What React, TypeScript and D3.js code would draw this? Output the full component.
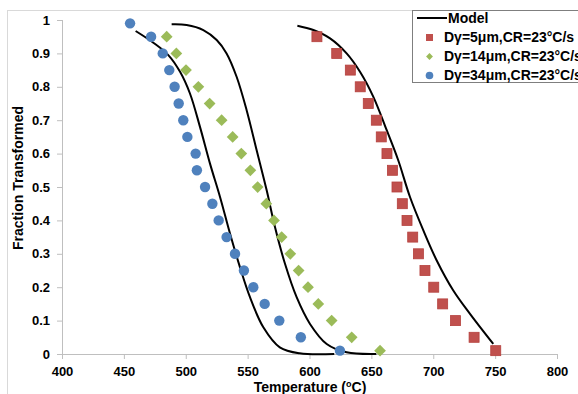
import React, { useRef, useEffect } from "react";
import * as d3 from "d3";

// tick values
const xTicks = [400, 450, 500, 550, 600, 650, 700, 750, 800];
const yTicks = [0, 0.1, 0.2, 0.3, 0.4, 0.5, 0.6, 0.7, 0.8, 0.9, 1];

// measured points, Dγ=5μm
const d5T = [606, 622, 633, 641, 647.5, 654, 658, 662.6, 667, 670.7, 675, 678.8, 683.4, 688, 693.3, 700.4, 707.6, 718, 733, 750.5];
const d5F = [0.95, 0.9, 0.85, 0.8, 0.75, 0.7, 0.65, 0.6, 0.55, 0.5, 0.45, 0.4, 0.35, 0.3, 0.25, 0.2, 0.15, 0.1, 0.05, 0.01];

// measured points, Dγ=14μm
const d14T = [484.6, 492.4, 500.2, 510.2, 519.3, 529, 537.9, 544.9, 552.2, 558.1, 565.1, 571.3, 577.5, 584.5, 591.2, 598.8, 607.1, 617.9, 634.1, 657];
const d14F = [0.95, 0.9, 0.85, 0.8, 0.75, 0.7, 0.65, 0.6, 0.55, 0.5, 0.45, 0.4, 0.35, 0.3, 0.25, 0.2, 0.15, 0.1, 0.05, 0.01];

// measured points, Dγ=34μm
const d34T = [455, 472, 481.4, 486.7, 491, 494.3, 498, 501.3, 508, 509, 515.6, 521.5, 526.6, 533, 539.8, 547, 554.6, 563.8, 575.6, 593, 624.6];
const d34F = [0.99, 0.95, 0.9, 0.85, 0.8, 0.75, 0.7, 0.65, 0.6, 0.55, 0.5, 0.45, 0.4, 0.35, 0.3, 0.25, 0.2, 0.15, 0.1, 0.05, 0.01];

// model curves
const modelAT = [459.5, 473.8, 485.9, 495.4, 503.4, 511.5, 519.6, 527.7, 535.8, 543.8, 551.9, 562.7, 576, 592, 620];
const modelAF = [0.967, 0.932, 0.895, 0.845, 0.78, 0.68, 0.57, 0.47, 0.36, 0.26, 0.17, 0.08, 0.02, 0.002, 0];
const modelBT = [488.6, 500.7, 514.2, 525, 533, 541.1, 549.2, 557.3, 565.4, 572.1, 580.2, 589.6, 600.4, 613.9, 630, 654];
const modelBF = [0.987, 0.985, 0.97, 0.94, 0.9, 0.83, 0.73, 0.61, 0.49, 0.38, 0.27, 0.17, 0.09, 0.03, 0.005, 0];
const modelCT = [590.2, 603.1, 616.6, 630, 640.8, 651.6, 662.4, 671.7, 681.2, 692, 702.8, 716.2, 729.7, 748.5];
const modelCF = [0.983, 0.97, 0.945, 0.9, 0.845, 0.77, 0.67, 0.58, 0.47, 0.37, 0.28, 0.19, 0.12, 0.03];

const legendLabels = ["Model", "Dγ=5μm,CR=23°C/s", "Dγ=14μm,CR=23°C/s", "Dγ=34μm,CR=23°C/s"];

const RED = "#C0504D";
const GREEN = "#9BBB59";
const BLUE = "#4F81BD";
const FONT = "'Liberation Sans', Arial, sans-serif";

export default function App() {
  const svgRef = useRef<SVGSVGElement>(null);

  useEffect(() => {
    const w = 578;
    const h = 394;
    const svg = d3.select(svgRef.current).attr("width", w).attr("height", h);
    svg.selectAll("*").remove();

    const x = d3.scaleLinear().domain([400, 800]).range([62, 557]);
    const y = d3.scaleLinear().domain([0, 1]).range([354, 20]);

    // outer chart border
    svg.append("rect")
      .attr("x", 7.5).attr("y", 10.5)
      .attr("width", 600).attr("height", 420)
      .attr("fill", "white").attr("stroke", "#d9d9d9");

    // axes
    const xAxis = d3.axisBottom(x).tickValues(xTicks).tickSize(5).tickFormat(d3.format("d"));
    const gx = svg.append("g").attr("transform", "translate(0,354)").call(xAxis);
    gx.selectAll("path, line").attr("stroke", "#bfbfbf");
    gx.selectAll("text")
      .attr("fill", "#000").attr("font-size", 13).attr("font-weight", "bold")
      .attr("font-family", FONT).attr("dy", "1.05em");

    const yAxis = d3.axisLeft(y).tickValues(yTicks).tickSize(5).tickFormat((d) => String(d));
    const gy = svg.append("g").attr("transform", "translate(62,0)").call(yAxis);
    gy.selectAll("path, line").attr("stroke", "#bfbfbf");
    gy.selectAll("text")
      .attr("fill", "#000").attr("font-size", 13).attr("font-weight", "bold")
      .attr("font-family", FONT).attr("x", -12);
    gx.select(".domain").attr("d", "M62,0.5H557");
    gy.select(".domain").attr("d", "M0.5,20V354");

    // axis titles
    const xt = svg.append("text")
      .attr("x", 310).attr("y", 392)
      .attr("text-anchor", "middle")
      .attr("font-size", 14).attr("font-weight", "bold").attr("font-family", FONT);
    xt.append("tspan").text("Temperature (");
    xt.append("tspan").text("o").attr("font-size", 9).attr("dy", -5);
    xt.append("tspan").text("C)").attr("dy", 5);

    svg.append("text")
      .attr("transform", "translate(23,178) rotate(-90)")
      .attr("text-anchor", "middle")
      .attr("font-size", 14).attr("font-weight", "bold").attr("font-family", FONT)
      .text("Fraction Transformed");

    // model lines
    const line = d3.line<[number, number]>()
      .x((d) => x(d[0])).y((d) => y(d[1]))
      .curve(d3.curveCatmullRom);
    const models = [
      d3.zip(modelAT, modelAF),
      d3.zip(modelBT, modelBF),
      d3.zip(modelCT, modelCF),
    ] as [number, number][][];
    svg.append("g").selectAll("path").data(models).join("path")
      .attr("d", (d) => line(d))
      .attr("fill", "none").attr("stroke", "#000").attr("stroke-width", 2);

    // markers
    svg.append("g").selectAll("rect").data(d3.zip(d5T, d5F)).join("rect")
      .attr("x", (d) => x(d[0]) - 5).attr("y", (d) => y(d[1]) - 5)
      .attr("width", 10).attr("height", 10)
      .attr("fill", RED).attr("stroke", "#b5403d").attr("stroke-width", 0.8);

    const diamond = d3.symbol().type(d3.symbolDiamond2).size(88);
    svg.append("g").selectAll("path").data(d3.zip(d14T, d14F)).join("path")
      .attr("d", diamond)
      .attr("transform", (d) => `translate(${x(d[0])},${y(d[1])})`)
      .attr("fill", GREEN);

    svg.append("g").selectAll("circle").data(d3.zip(d34T, d34F)).join("circle")
      .attr("cx", (d) => x(d[0])).attr("cy", (d) => y(d[1])).attr("r", 5.2)
      .attr("fill", BLUE);

    // legend
    const lg = svg.append("g");
    lg.append("rect")
      .attr("x", 412.5).attr("y", 10.5).attr("width", 200).attr("height", 72)
      .attr("fill", "white").attr("stroke", "#7f7f7f");
    lg.append("line").attr("x1", 417).attr("x2", 447).attr("y1", 18).attr("y2", 18)
      .attr("stroke", "#000").attr("stroke-width", 2);
    lg.append("rect").attr("x", 426).attr("y", 34).attr("width", 7).attr("height", 7).attr("fill", RED);
    lg.append("path").attr("d", d3.symbol().type(d3.symbolDiamond2).size(30))
      .attr("transform", "translate(429.5,56.5)").attr("fill", GREEN);
    lg.append("circle").attr("cx", 429.5).attr("cy", 75.5).attr("r", 3.8).attr("fill", BLUE);
    const ly = [18, 37.5, 56.5, 75.5];
    const lx = [448, 444, 444, 444];
    lg.selectAll("text.lab").data(legendLabels).join("text")
      .attr("class", "lab")
      .attr("x", (d, i) => lx[i]).attr("y", (d, i) => ly[i])
      .attr("dy", "0.35em")
      .attr("font-size", 14).attr("font-weight", "bold").attr("font-family", FONT)
      .text((d) => d);
  }, []);

  return (
    <svg ref={svgRef} style={{ position: "absolute", left: 0, top: 0 }}></svg>
  );
}
